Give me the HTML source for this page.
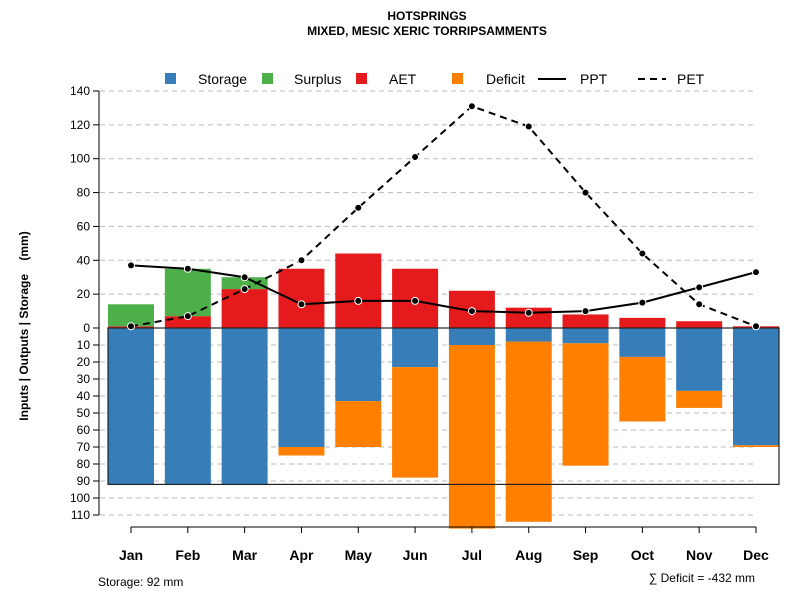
<!DOCTYPE html>
<html><head><meta charset="utf-8"><style>
body{margin:0;background:#fff}
svg{font-family:"Liberation Sans",sans-serif}
</style></head><body>
<svg id="c" width="800" height="600">
<text x="427" y="20" text-anchor="middle" font-size="12" font-weight="bold">HOTSPRINGS</text>
<text x="427" y="35" text-anchor="middle" font-size="12" font-weight="bold">MIXED, MESIC XERIC TORRIPSAMMENTS</text>
<g id="grid"></g><g id="bars"></g><g id="lines"></g><g id="axes"></g>
<g font-size="14">
<rect x="165" y="73" width="11" height="11" fill="#377eb8"/><text x="198" y="84">Storage</text>
<rect x="262" y="73" width="11" height="11" fill="#4daf4a"/><text x="294" y="84">Surplus</text>
<rect x="356" y="73" width="11" height="11" fill="#e41a1c"/><text x="389" y="84">AET</text>
<rect x="452" y="73" width="11" height="11" fill="#ff7f00"/><text x="486" y="84">Deficit</text>
<line x1="538" y1="79" x2="566" y2="79" stroke="#000" stroke-width="2"/><text x="580" y="84">PPT</text>
<line x1="638" y1="79" x2="666" y2="79" stroke="#000" stroke-width="2" stroke-dasharray="7,5"/><text x="677" y="84">PET</text>
</g>
<text transform="translate(28,326) rotate(-90)" text-anchor="middle" font-size="12" font-weight="bold">Inputs | Outputs | Storage&#160;&#160;&#160;&#160;(mm)</text>
<text x="98" y="586" font-size="12">Storage: 92 mm</text>
<text x="755" y="582" text-anchor="end" font-size="12">∑ Deficit = -432 mm</text>
</svg>
<script>
const months=["Jan","Feb","Mar","Apr","May","Jun","Jul","Aug","Sep","Oct","Nov","Dec"];
const storage=[92,92,92,70,43,23,10,8,9,17,37,69];
const deficit=[0,0,0,5,27,65,108,106,72,38,10,1];
const aet=[1,7,23,35,44,35,22,12,8,6,4,1];
const surplus=[13,28,7,0,0,0,0,0,0,0,0,0];
const ppt=[37,35,30,14,16,16,10,9,10,15,24,33];
const pet=[1,7,23,40,71,101,131,119,80,44,14,1];
const posTicks=[0,20,40,60,80,100,120,140];
const negTicks=[10,20,30,40,50,60,70,80,90,100,110];
const maxStorage=92;
const NS="http://www.w3.org/2000/svg";
const y0=328, upS=(328-91)/140, dnS=(515-328)/110;
const yPos=v=>y0-v*upS, yNeg=v=>y0+v*dnS;
const xC=i=>131+i*(756-131)/11, bw=46;
function mk(p,t,a){const e=document.createElementNS(NS,t);for(const k in a)e.setAttribute(k,a[k]);document.getElementById(p).appendChild(e);return e;}
posTicks.forEach(v=>{const y=yPos(v);
 if(v>0){const g=mk('grid','line',{x1:100,x2:756,y1:y,y2:y,stroke:'#bbb','stroke-dasharray':'5,4'});
 
 }
 mk('axes','line',{x1:93,x2:99,y1:y,y2:y,stroke:'#000'});
 const t=mk('axes','text',{x:90,y:y+4,'text-anchor':'end','font-size':12});t.textContent=v;
 
 });
negTicks.forEach(v=>{const y=yNeg(v);
 const g=mk('grid','line',{x1:100,x2:756,y1:y,y2:y,stroke:'#bbb','stroke-dasharray':'5,4'});
 
 
 mk('axes','line',{x1:93,x2:99,y1:y,y2:y,stroke:'#000'});
 const t=mk('axes','text',{x:90,y:y+4,'text-anchor':'end','font-size':12});t.textContent=v;
 
 });
mk('axes','line',{x1:99,x2:99,y1:yPos(140),y2:yNeg(110),stroke:'#000'});
months.forEach((m,i)=>{const x=xC(i),l=x-bw/2;
 let r=mk('bars','rect',{x:l,y:y0,width:bw,height:storage[i]*dnS,fill:'#377eb8'});
 
 
 if(deficit[i]>0){r=mk('bars','rect',{x:l,y:yNeg(storage[i]),width:bw,height:deficit[i]*dnS,fill:'#ff7f00'});
 
 }
 r=mk('bars','rect',{x:l,y:yPos(aet[i]),width:bw,height:aet[i]*upS,fill:'#e41a1c'});
 
 
 if(surplus[i]>0){r=mk('bars','rect',{x:l,y:yPos(aet[i]+surplus[i]),width:bw,height:surplus[i]*upS,fill:'#4daf4a'});
 
 }
 mk('axes','line',{x1:x,x2:x,y1:527,y2:533,stroke:'#000'});
 const t=mk('axes','text',{x:x,y:560,'text-anchor':'middle','font-size':14,'font-weight':'bold'});t.textContent=m;
 
 });
mk('axes','line',{x1:xC(0),x2:xC(11),y1:527,y2:527,stroke:'#000'});
const fr=mk('bars','rect',{x:108,y:y0,width:671,height:maxStorage*dnS,fill:'none',stroke:'#222','stroke-width':1.2});


function series(vals,name,dash){
 const pl=mk('lines','polyline',{points:vals.map((v,i)=>xC(i)+','+yPos(v)).join(' '),fill:'none',stroke:'#000','stroke-width':2,'stroke-dasharray':dash});
 
 
 vals.forEach((v,i)=>{const c=mk('lines','circle',{cx:xC(i),cy:yPos(v),r:3.5,fill:'#000',stroke:'#fff','stroke-width':1});
 
 });
}
series(pet,'pet','7,5');
series(ppt,'ppt','none');
</script>
</body></html>
